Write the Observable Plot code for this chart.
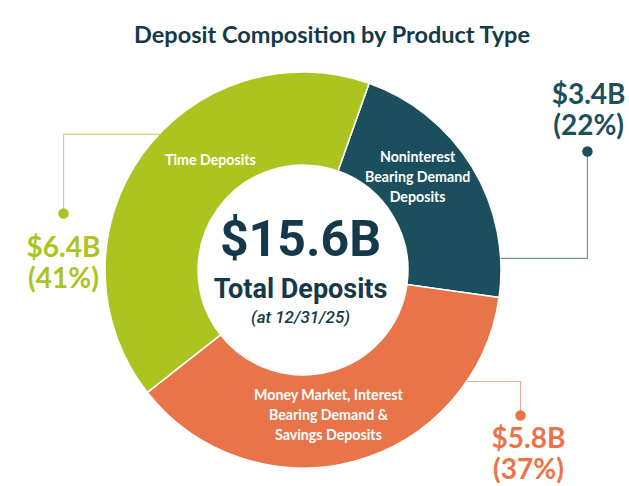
<!DOCTYPE html>
<html><head><meta charset="utf-8">
<script src="https://cdn.jsdelivr.net/npm/d3@7"></script>
<script src="https://cdn.jsdelivr.net/npm/@observablehq/plot@0.6"></script>
<style>body{margin:0;background:#fff}</style>
</head><body><div id="chart"></div>
<script>
// ---- data ----
const title = "Deposit Composition by Product Type";
const categories = ["Noninterest Bearing Demand Deposits", "Money Market, Interest Bearing Demand & Savings Deposits", "Time Deposits"];
const sliceLabels = ["Noninterest\nBearing Demand\nDeposits", "Money Market, Interest\nBearing Demand &\nSavings Deposits", "Time Deposits"];
const values = [3.4, 5.8, 6.4];          // $B
const percents = [22, 37, 41];
const amountLabels = ["$3.4B", "$5.8B", "$6.4B"];
const totalLabel = "$15.6B";
const centerLines = ["Total Deposits", "(at 12/31/25)"];

// ---- styles / layout ----
const colors = ["#1b4f5d", "#e9744a", "#acc41f"];
const leaderColors = ["#7390a0", "#f0aa90", "#c8d77a"];
const textDark = "#15394a";
const startDeg = 19.5;
const innerFrac = 0.53;
// angles in degrees clockwise from 12 o'clock; lengths in units of outer radius
const layout = [
  {labelAngle: 50.2, labelR: 0.75, leaderAngle: 86.5, elbowX: 1.434, dotY: 0.601, textX: 1.44, textY: 0.813},
  {labelAngle: 170.1, labelR: 0.733, leaderAngle: 124.1, elbowX: 1.096, dotY: -0.732, textX: 1.136, textY: -0.925},
  {labelAngle: 320.3, labelR: 0.736, leaderAngle: 313.4, elbowX: -1.212, dotY: 0.288, textX: -1.212, textY: 0.04}
];

const rad = Math.PI / 180;
const pie = d3.pie().sort(null).value(d => d)
  .startAngle(startDeg * rad).endAngle((startDeg + 360) * rad);
const arcs = pie(values);

const slices = categories.map((c, i) => ({
  category: c,
  value: values[i],
  label: sliceLabels[i],
  color: colors[i],
  lx: layout[i].labelR * Math.sin(layout[i].labelAngle * rad),
  ly: layout[i].labelR * Math.cos(layout[i].labelAngle * rad),
  amount: `${amountLabels[i]}\n(${percents[i]}%)`,
  tx: layout[i].textX, ty: layout[i].textY,
  dx: layout[i].elbowX, dy: layout[i].dotY
}));

const leaderPts = [];
categories.forEach((c, i) => {
  const L = layout[i];
  const ax = Math.sin(L.leaderAngle * rad), ay = Math.cos(L.leaderAngle * rad);
  leaderPts.push({k: i, x: ax, y: ay}, {k: i, x: L.elbowX, y: ay}, {k: i, x: L.elbowX, y: L.dotY});
});

function donut(index, scales) {
  const cx = scales.x(0), cy = scales.y(0);
  const R = scales.x(1) - scales.x(0);
  const arc = d3.arc().innerRadius(R * innerFrac).outerRadius(R);
  const g = d3.create("svg:g").attr("transform", `translate(${cx},${cy})`);
  g.selectAll("path").data(arcs).join("path")
    .attr("d", arc)
    .attr("fill", (d, i) => colors[i])
    .attr("stroke", "#fff")
    .attr("stroke-width", 1.5);
  return g.node();
}

const chart = Plot.plot({
  width: 629,
  height: 486,
  margin: 0,
  x: {type: "linear", domain: [-1, 1], range: [105, 501], axis: null},
  y: {type: "linear", domain: [-1, 1], range: [468, 72], axis: null},
  style: {background: "#fff"},
  marks: [
    Plot.text([title], {frameAnchor: "top", dy: 26, dx: 17, text: d => d, fontFamily: "Lato", fontWeight: 700, fontSize: 23.5, fill: textDark}),
    donut,
    Plot.line(leaderPts, {x: "x", y: "y", z: "k", stroke: d => leaderColors[d.k], strokeWidth: 1.2}),
    Plot.dot(slices, {x: "dx", y: "dy", r: 4.5, fill: "color", stroke: "color"}),
    Plot.text(slices, {x: "lx", y: "ly", text: "label", fill: "#fff", fontFamily: "Lato", fontWeight: 700, fontSize: 14.2, lineHeight: 1.4}),
    Plot.text(slices, {x: "tx", y: "ty", text: "amount", fill: "color", fontFamily: "Lato", fontWeight: 700, fontSize: 28, lineHeight: 1.12}),
    Plot.text([totalLabel], {x: 0, y: 0.152, dx: -3, text: d => d, fill: textDark, fontFamily: "Roboto", fontWeight: 700, fontSize: 50}),
    Plot.text([centerLines[0]], {x: 0, y: -0.096, dx: -3, text: d => d, fill: textDark, fontFamily: "Roboto", fontWeight: 700, fontSize: 27}),
    Plot.text([centerLines[1]], {x: 0, y: -0.237, dx: -3, text: d => d, fill: textDark, fontFamily: "Roboto", fontWeight: 500, fontStyle: "italic", fontSize: 17})
  ]
});
document.getElementById("chart").appendChild(chart);
</script>
</body></html>
